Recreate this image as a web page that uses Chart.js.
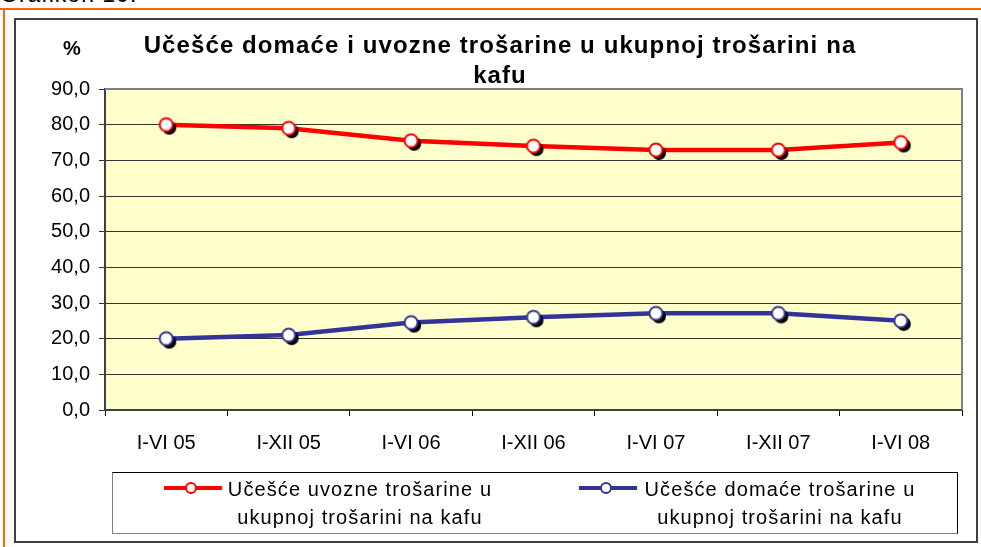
<!DOCTYPE html>
<html>
<head>
<meta charset="utf-8">
<script src="https://cdn.jsdelivr.net/npm/chart.js@4.4.1/dist/chart.umd.min.js"></script>
<style>
  body { margin: 0; background: #fff; }
  #wrap { position: relative; width: 981px; height: 547px; overflow: hidden; font-family: "Liberation Sans", Arial, sans-serif; }
  #cap { position: absolute; left: 0; top: -19px; font-size: 23px; letter-spacing: 1px; color: #000; }
  .orange-top { position: absolute; left: 0; top: 8px; width: 981px; height: 2px; background: #ff6600; }
  .orange-left { position: absolute; left: 3px; top: 8px; width: 2px; height: 539px; background: #ff6600; }
  .frame { position: absolute; left: 14px; top: 18px; width: 964px; height: 525px; border: 2px solid #404040; box-sizing: border-box; background: #fff; }
  canvas { position: absolute; left: 0; top: 0; }
  #legend { position: absolute; left: 112px; top: 472px; width: 846px; height: 62px; box-sizing: border-box;
            border: 1px solid #000; border-left-color: #808080; border-bottom-color: #808080; }
  .item { position: absolute; top: 2px; font-size: 20px; letter-spacing: 1.1px; line-height: 28px; text-align: center; color: #000; white-space: nowrap; }
  .sample { position: absolute; top: 8px; }
</style>
</head>
<body>
<div id="wrap">
  <div id="cap">Grafikon 10:</div>
  <div class="orange-top"></div>
  <div class="orange-left"></div>
  <div class="frame"></div>
  <canvas id="chart" width="981" height="547"></canvas>
  <div id="legend"></div>
</div>
<script>
// data
const periods = ["I-VI 05", "I-XII 05", "I-VI 06", "I-XII 06", "I-VI 07", "I-XII 07", "I-VI 08"];
const importShare = [80.0, 79.0, 75.5, 74.0, 72.9, 72.9, 75.0];
const domesticShare = [20.0, 21.0, 24.5, 26.0, 27.1, 27.1, 25.0];
const yTicks = [0, 10, 20, 30, 40, 50, 60, 70, 80, 90];

const titleLines = ["Učešće domaće i uvozne trošarine u ukupnoj trošarini na", "kafu"];
const seriesNames = [
  ["Učešće uvozne trošarine u", "ukupnoj trošarini na kafu"],
  ["Učešće domaće trošarine u", "ukupnoj trošarini na kafu"]
];
const red = "#ff0000";
const navy = "#333399";
const fontFamily = "'Liberation Sans', Arial, sans-serif";

// white marker with a black drop shadow
function makeMarker(color) {
  const c = document.createElement("canvas");
  c.width = 28; c.height = 28;
  const g = c.getContext("2d");
  g.fillStyle = "#000";
  g.beginPath(); g.arc(17, 17, 7, 0, Math.PI * 2); g.fill();
  g.fillStyle = "#fff";
  g.strokeStyle = color;
  g.lineWidth = 2;
  g.beginPath(); g.arc(14, 14, 6.5, 0, Math.PI * 2); g.fill(); g.stroke();
  return c;
}

const plotBox = {
  id: "plotBox",
  beforeDraw(chart) {
    const a = chart.chartArea, ctx = chart.ctx;
    ctx.save();
    ctx.fillStyle = "#ffffcc";
    ctx.fillRect(a.left, a.top, a.right - a.left, a.bottom - a.top);
    ctx.restore();
  },
  afterDatasetsDraw(chart) {
    const a = chart.chartArea, ctx = chart.ctx;
    ctx.save();
    ctx.strokeStyle = "#808080";
    ctx.lineWidth = 2;
    ctx.beginPath();
    ctx.moveTo(a.left, a.top);
    ctx.lineTo(a.right, a.top);
    ctx.lineTo(a.right, a.bottom);
    ctx.stroke();
    ctx.restore();
  },
  afterDraw(chart) {
    const ctx = chart.ctx;
    ctx.save();
    ctx.fillStyle = "#000";
    ctx.textAlign = "center";
    ctx.textBaseline = "middle";
    ctx.font = "bold 24px " + fontFamily;
    if ("letterSpacing" in ctx) ctx.letterSpacing = "1.1px";
    ctx.fillText(titleLines[0], 500, 46);
    ctx.fillText(titleLines[1], 500, 76);
    if ("letterSpacing" in ctx) ctx.letterSpacing = "0px";
    ctx.font = "bold 20px " + fontFamily;
    ctx.fillText("%", 72, 49);
    ctx.restore();
  }
};

new Chart(document.getElementById("chart"), {
  type: "line",
  data: {
    labels: periods,
    datasets: [
      {
        label: seriesNames[0].join(" "),
        data: importShare,
        borderColor: red,
        borderWidth: 4.5,
        pointStyle: makeMarker(red),
        tension: 0
      },
      {
        label: seriesNames[1].join(" "),
        data: domesticShare,
        borderColor: navy,
        borderWidth: 4.5,
        pointStyle: makeMarker(navy),
        tension: 0
      }
    ]
  },
  options: {
    responsive: false,
    animation: false,
    events: [],
    layout: { padding: { top: 89, right: 19, left: 0, bottom: 0 } },
    plugins: { legend: { display: false }, title: { display: false }, tooltip: { enabled: false } },
    scales: {
      x: {
        offset: true,
        grid: { offset: true, drawOnChartArea: false, color: "#000", tickLength: 6 },
        border: { color: "#404040", width: 2 },
        ticks: { color: "#000", padding: 15, maxRotation: 0, font: { family: fontFamily, size: 20 } },
        afterFit(s) { s.height = 137; }
      },
      y: {
        min: 0,
        max: 90,
        afterBuildTicks(s) { s.ticks = yTicks.map(v => ({ value: v })); },
        grid: { color: "#333333", lineWidth: 1, tickLength: 6 },
        border: { color: "#404040", width: 2 },
        ticks: {
          color: "#000",
          padding: 9,
          font: { family: fontFamily, size: 20 },
          callback: v => v.toFixed(1).replace(".", ",")
        },
        afterFit(s) { s.width = 105; }
      }
    }
  },
  plugins: [plotBox]
});

// legend: line sample with marker, then two centred text lines
const legend = document.getElementById("legend");
const legendItems = [
  { lines: seriesNames[0], color: red, sampleLeft: 51, textCenter: 247 },
  { lines: seriesNames[1], color: navy, sampleLeft: 466, textCenter: 667 }
];
legendItems.forEach(it => {
  const s = document.createElement("div");
  s.className = "sample";
  s.style.left = it.sampleLeft + "px";
  s.innerHTML = `<svg width="58" height="14"><line x1="0" y1="7" x2="58" y2="7" stroke="${it.color}" stroke-width="4"/>` +
    `<circle cx="27" cy="7" r="5" fill="#fff" stroke="${it.color}" stroke-width="2"/></svg>`;
  legend.appendChild(s);
  const d = document.createElement("div");
  d.className = "item";
  d.style.left = (it.textCenter - 150) + "px";
  d.style.width = "300px";
  d.innerHTML = it.lines.join("<br>");
  legend.appendChild(d);
});
</script>
</body>
</html>
